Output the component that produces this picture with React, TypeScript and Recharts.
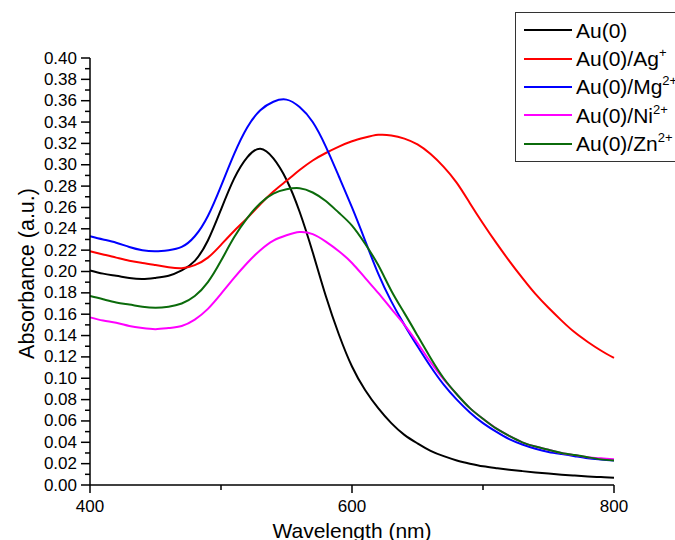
import React from 'react';
import { LineChart, Line, XAxis, YAxis, Legend, Label } from 'recharts';

const FONT = '"Liberation Sans", Arial, sans-serif';

// wavelength (nm)
const wavelengths = [
  400, 410, 420, 430, 440, 450, 460, 470, 480, 490, 500, 510, 520, 530, 540, 550, 560, 570, 580, 590,
  600, 610, 620, 630, 640, 650, 660, 670, 680, 690, 700, 710, 720, 730, 740, 750, 760, 770, 780, 790, 800,
];

// absorbance (a.u.)
const au = [
  0.201, 0.198, 0.196, 0.194, 0.193, 0.194, 0.196, 0.201, 0.21, 0.229, 0.258, 0.287, 0.307, 0.315, 0.306,
  0.286, 0.256, 0.218, 0.177, 0.141, 0.111, 0.089, 0.072, 0.058, 0.047, 0.039, 0.032, 0.027, 0.023, 0.02,
  0.0175, 0.0158, 0.0143, 0.013, 0.0118, 0.0107, 0.0097, 0.0088, 0.008, 0.0074, 0.0068,
];
const auAg = [
  0.219, 0.216, 0.213, 0.21, 0.208, 0.206, 0.204, 0.203, 0.206, 0.213, 0.225, 0.238, 0.25, 0.263, 0.275,
  0.285, 0.295, 0.304, 0.311, 0.317, 0.322, 0.3255, 0.328, 0.3275, 0.3245, 0.319, 0.31, 0.298, 0.283, 0.264,
  0.245, 0.227, 0.21, 0.194, 0.179, 0.166, 0.154, 0.143, 0.134, 0.126, 0.119,
];
const auMg = [
  0.233, 0.23, 0.227, 0.223, 0.22, 0.219, 0.22, 0.223, 0.233, 0.252, 0.28, 0.31, 0.335, 0.351, 0.359,
  0.361, 0.354, 0.34, 0.317, 0.289, 0.26, 0.229, 0.198, 0.172, 0.15, 0.13, 0.111, 0.094, 0.08, 0.068,
  0.058, 0.05, 0.043, 0.038, 0.034, 0.031, 0.029, 0.027, 0.025, 0.024, 0.023,
];
const auNi = [
  0.157, 0.154, 0.152, 0.149, 0.147, 0.146, 0.147, 0.149, 0.155, 0.165, 0.179, 0.194, 0.208, 0.22, 0.229,
  0.234, 0.237, 0.235, 0.228, 0.219, 0.208, 0.194, 0.18, 0.165, 0.15, 0.133, 0.115, 0.099, 0.085, 0.072,
  0.062, 0.053, 0.046, 0.04, 0.036, 0.033, 0.03, 0.028, 0.026, 0.025, 0.024,
];
const auZn = [
  0.177, 0.174, 0.171, 0.169, 0.167, 0.166, 0.167, 0.17, 0.177, 0.19, 0.21, 0.232, 0.25, 0.264, 0.273,
  0.277, 0.278, 0.274, 0.266, 0.255, 0.243, 0.226, 0.206, 0.182, 0.161, 0.14, 0.119, 0.1, 0.085, 0.072,
  0.062, 0.053, 0.046, 0.04, 0.036, 0.033, 0.03, 0.028, 0.026, 0.024, 0.023,
];

const seriesKeys = ['au', 'auAg', 'auMg', 'auNi', 'auZn'];
const seriesBase = ['Au(0)', 'Au(0)/Ag', 'Au(0)/Mg', 'Au(0)/Ni', 'Au(0)/Zn'];
const seriesSup = ['', '+', '2+', '2+', '2+'];
const seriesColors = ['#000000', '#ff0000', '#0000ff', '#ff00ff', '#0b6b0b'];

const xTicks = [400, 500, 600, 700, 800];
const xLabelled = [400, 600, 800];
const yTicks = [
  0, 0.01, 0.02, 0.03, 0.04, 0.05, 0.06, 0.07, 0.08, 0.09, 0.1, 0.11, 0.12, 0.13, 0.14, 0.15, 0.16, 0.17,
  0.18, 0.19, 0.2, 0.21, 0.22, 0.23, 0.24, 0.25, 0.26, 0.27, 0.28, 0.29, 0.3, 0.31, 0.32, 0.33, 0.34, 0.35,
  0.36, 0.37, 0.38, 0.39, 0.4,
];

const data = wavelengths.map((w, i) => ({
  w,
  au: au[i],
  auAg: auAg[i],
  auMg: auMg[i],
  auNi: auNi[i],
  auZn: auZn[i],
}));

// tick lines + labels drawn together (minor ticks have no label)
const YTick = (props: any) => {
  const { x, y, payload } = props;
  const major = Math.round(payload.value * 100) % 2 === 0;
  return (
    <g>
      <line x1={x - (major ? 9 : 5)} x2={x} y1={y} y2={y} stroke="#000" strokeWidth={1.5} />
      {major && (
        <text x={x - 13} y={y} textAnchor="end" dominantBaseline="central" fontSize={17} fontFamily={FONT} fill="#000">
          {payload.value.toFixed(2)}
        </text>
      )}
    </g>
  );
};

const XTick = (props: any) => {
  const { x, y, payload } = props;
  const major = xLabelled.includes(payload.value);
  return (
    <g>
      <line x1={x} x2={x} y1={y} y2={y + (major ? 8 : 5)} stroke="#000" strokeWidth={1.5} />
      {major && (
        <text x={x} y={y + 27} textAnchor="middle" fontSize={17} fontFamily={FONT} fill="#000">
          {payload.value}
        </text>
      )}
    </g>
  );
};

const renderLegend = () => (
  <div
    style={{
      border: '1px solid #333',
      background: '#fff',
      padding: '3px 0 3px 8px',
      fontFamily: FONT,
      fontSize: 21,
      lineHeight: 1,
      color: '#000',
    }}
  >
    {seriesKeys.map((k, i) => (
      <div key={k} style={{ display: 'flex', alignItems: 'center', height: 28.4 }}>
        <span style={{ display: 'inline-block', width: 48, borderTop: `2px solid ${seriesColors[i]}`, marginRight: 4 }} />
        <span>
          {seriesBase[i]}
          <span style={{ fontSize: 13, position: 'relative', top: -9 }}>{seriesSup[i]}</span>
        </span>
      </div>
    ))}
  </div>
);

export default function App() {
  return (
    <div style={{ position: 'absolute', left: 0, top: 0, width: 675, height: 540, overflow: 'hidden', background: '#fff' }}>
      <LineChart width={675} height={540} data={data} margin={{ top: 58, right: 61, bottom: 0, left: 0 }}>
        <XAxis
          dataKey="w"
          type="number"
          domain={[400, 800]}
          ticks={xTicks}
          interval={0}
          height={55}
          tickSize={0}
          tickMargin={0}
          tickLine={false}
          tick={<XTick />}
          axisLine={{ stroke: '#000', strokeWidth: 1.5 }}
        >
          <Label
            content={(p: any) => {
              const vb = p.viewBox;
              return (
                <text x={vb.x + vb.width / 2} y={538} textAnchor="middle" fontSize={21} fontFamily={FONT} fill="#000">
                  Wavelength (nm)
                </text>
              );
            }}
          />
        </XAxis>
        <YAxis
          type="number"
          domain={[0, 0.4]}
          ticks={yTicks}
          interval={0}
          width={90}
          tickSize={0}
          tickMargin={0}
          tickLine={false}
          tick={<YTick />}
          axisLine={{ stroke: '#000', strokeWidth: 1.5 }}
        >
          <Label
            content={(p: any) => {
              const vb = p.viewBox;
              const cx = 27;
              const cy = vb.y + vb.height / 2 + 2;
              return (
                <text
                  x={cx}
                  y={cy}
                  transform={`rotate(-90 ${cx} ${cy})`}
                  textAnchor="middle"
                  dominantBaseline="central"
                  fontSize={21.5}
                  fontFamily={FONT}
                  fill="#000"
                >
                  Absorbance (a.u.)
                </text>
              );
            }}
          />
        </YAxis>
        <Legend
          layout="horizontal"
          verticalAlign="middle"
          align="center"
          content={renderLegend}
          wrapperStyle={{ position: 'absolute', left: 515, top: 12, width: 200 }}
        />
        {seriesKeys.map((k, i) => (
          <Line
            key={k}
            type="natural"
            dataKey={k}
            name={seriesBase[i] + seriesSup[i]}
            stroke={seriesColors[i]}
            strokeWidth={2}
            dot={false}
            isAnimationActive={false}
          />
        ))}
      </LineChart>
    </div>
  );
}
